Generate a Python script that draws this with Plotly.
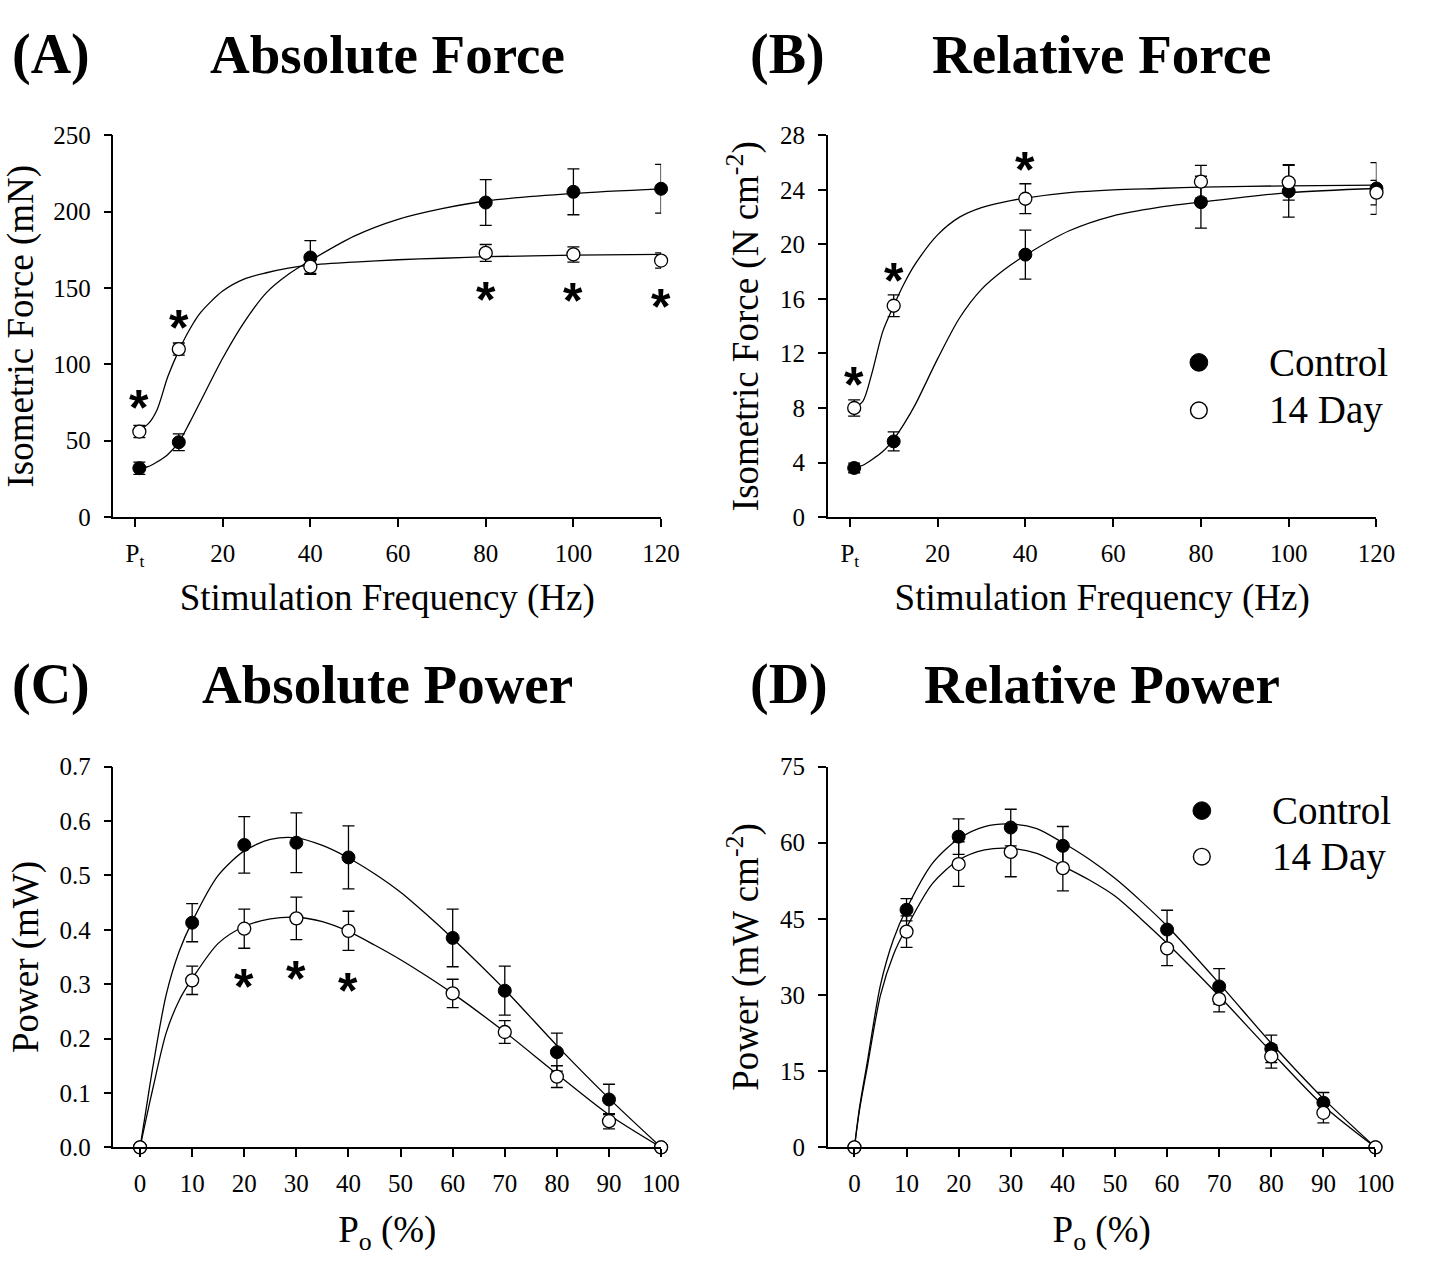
import plotly.graph_objects as go

W, H = 1431, 1268
SERIF = "Liberation Serif"

# ---------------- Panel A : absolute force ----------------
freq = [1, 10, 40, 80, 100, 120]
a_ctrl = [32, 49, 170, 206, 213, 215]
a_ctrl_err = [4, 5.5, 11, 15, 15, 16]
a_d14 = [56, 110, 164, 173, 172, 168]
a_d14_err = [4, 4, 4.5, 5.5, 5, 5]
a_fit_x = [1, 3, 5, 7.5, 10, 12.5, 15, 20, 25, 30, 35, 40, 50, 60, 70, 80, 100, 120]
a_fit_ctrl = [32, 33, 36, 41, 49, 62, 76, 104, 128, 147, 159, 168, 184, 195, 202, 207, 212, 215]
a_fit_d14 = [57, 61, 70, 92, 109, 123, 134, 148, 156, 160, 163, 165, 167, 168.5, 169.5, 170.5, 171.5, 172]
a_star_x = [1, 10, 80, 100, 120]
a_star_y = [78.5, 131, 149.5, 148.7, 144.8]

# ---------------- Panel B : relative force ----------------
b_ctrl = [3.6, 5.55, 19.25, 23.1, 23.9, 24.1]
b_ctrl_err = [0.35, 0.7, 1.8, 1.9, 1.9, 1.9]
b_d14 = [8.0, 15.5, 23.35, 24.6, 24.55, 23.8]
b_d14_err = [0.6, 0.8, 1.1, 1.2, 1.3, 0.9]
b_fit_x = [1, 3, 5, 7.5, 10, 12.5, 15, 20, 25, 30, 35, 40, 50, 60, 70, 80, 100, 120]
b_fit_ctrl = [3.6, 3.8, 4.2, 4.8, 5.7, 6.9, 8.3, 11.6, 14.6, 16.7, 18.1, 19.2, 21.0, 22.1, 22.7, 23.1, 23.8, 24.1]
b_fit_d14 = [8.0, 8.5, 10.5, 13.6, 15.5, 17.2, 18.6, 20.7, 22.0, 22.7, 23.1, 23.4, 23.8, 24.0, 24.1, 24.2, 24.3, 24.35]
b_star_x = [1, 10, 40]
b_star_y = [10.5, 18.1, 26.3]

# ---------------- Panel C : absolute power ----------------
load = [0, 10, 20, 30, 40, 60, 70, 80, 90, 100]
c_ctrl = [0, 0.413, 0.556, 0.560, 0.533, 0.385, 0.288, 0.175, 0.088, 0]
c_ctrl_err = [0, 0.035, 0.052, 0.055, 0.058, 0.053, 0.045, 0.035, 0.028, 0]
c_d14 = [0, 0.307, 0.402, 0.421, 0.398, 0.283, 0.212, 0.130, 0.048, 0]
c_d14_err = [0, 0.026, 0.036, 0.039, 0.036, 0.026, 0.021, 0.020, 0.014, 0]
pw_fit_x = [0, 1, 2.5, 5, 7.5, 10, 15, 20, 25, 30, 35, 40, 45, 50, 55, 60, 70, 80, 90, 100]
c_fit_ctrl = [0, 0.06, 0.15, 0.28, 0.36, 0.415, 0.50, 0.545, 0.566, 0.569, 0.555, 0.532, 0.503, 0.469, 0.428,
              0.384, 0.290, 0.187, 0.090, 0]
c_fit_d14 = [0, 0.045, 0.11, 0.21, 0.27, 0.31, 0.375, 0.406, 0.420, 0.423, 0.415, 0.397, 0.372, 0.345, 0.315,
             0.283, 0.212, 0.135, 0.060, 0]
c_star_x = [20, 30, 40]
c_star_y = [0.315, 0.33, 0.3085]

# ---------------- Panel D : relative power ----------------
d_ctrl = [0, 46.8, 61.2, 63.0, 59.4, 42.9, 31.7, 19.4, 8.8, 0]
d_ctrl_err = [0, 2.2, 3.5, 3.6, 3.8, 3.8, 3.5, 2.7, 2.0, 0]
d_d14 = [0, 42.5, 55.8, 58.2, 55.0, 39.2, 29.2, 17.9, 6.8, 0]
d_d14_err = [0, 3.1, 4.4, 4.9, 4.5, 3.4, 2.5, 2.3, 2.0, 0]
d_fit_ctrl = [0, 8, 17, 32, 41, 47, 56, 60.8, 63.2, 63.7, 62.8, 60, 56.8, 53, 48.5, 43.6, 32.3, 20.5, 9.6, 0]
d_fit_d14 = [0, 7.5, 16, 30, 38, 43.3, 52, 56.6, 58.6, 58.9, 57.9, 55.4, 52.7, 49.5, 45.0, 40.2, 29.8, 18.8, 8.2, 0]

freq_ticks = [0, 20, 40, 60, 80, 100, 120]
freq_ticktext = ["P<sub>t</sub>", "20", "40", "60", "80", "100", "120"]
load_ticks = [0, 10, 20, 30, 40, 50, 60, 70, 80, 90, 100]

groups = ["Control", "14 Day"]

fig = go.Figure()


def add_panel(xa, ya, fit_x, fit_c, fit_d, x, yc, ec, yd, ed):
    for fy in (fit_c, fit_d):
        fig.add_trace(go.Scatter(x=fit_x, y=fy, mode="lines", xaxis=xa, yaxis=ya,
                                 line=dict(color="black", width=1.3, shape="spline", smoothing=0.8),
                                 showlegend=False, hoverinfo="skip", cliponaxis=False))
    fig.add_trace(go.Scatter(x=x, y=yc, mode="markers", xaxis=xa, yaxis=ya, name=groups[0],
                             marker=dict(color="black", size=13, line=dict(color="black", width=1)),
                             error_y=dict(type="data", array=ec, color="black", thickness=1.3, width=6),
                             showlegend=False, cliponaxis=False))
    fig.add_trace(go.Scatter(x=x, y=yd, mode="markers", xaxis=xa, yaxis=ya, name=groups[1],
                             marker=dict(color="white", size=13, line=dict(color="black", width=1.3)),
                             error_y=dict(type="data", array=ed, color="black", thickness=1.3, width=6),
                             showlegend=False, cliponaxis=False))


add_panel("x", "y", a_fit_x, a_fit_ctrl, a_fit_d14, freq, a_ctrl, a_ctrl_err, a_d14, a_d14_err)
add_panel("x2", "y2", b_fit_x, b_fit_ctrl, b_fit_d14, freq, b_ctrl, b_ctrl_err, b_d14, b_d14_err)
add_panel("x3", "y3", pw_fit_x, c_fit_ctrl, c_fit_d14, load, c_ctrl, c_ctrl_err, c_d14, c_d14_err)
add_panel("x4", "y4", pw_fit_x, d_fit_ctrl, d_fit_d14, load, d_ctrl, d_ctrl_err, d_d14, d_d14_err)

annotations = []
# significance asterisks
for xr, yr, sx, sy in [("x", "y", a_star_x, a_star_y), ("x2", "y2", b_star_x, b_star_y),
                       ("x3", "y3", c_star_x, c_star_y)]:
    for xv, yv in zip(sx, sy):
        annotations.append(dict(x=xv, y=yv, xref=xr, yref=yr, text="<b>*</b>", showarrow=False,
                                font=dict(family="Liberation Sans", size=50, color="black"),
                                xanchor="center", yanchor="middle", yshift=-11))


def px_x(p):
    return p / W


def px_y(p):
    return 1 - p / H


# panel titles and letters
for letter, title, lx, tx, ty in [("(A)", "Absolute Force", 52, 393, 42),
                                  ("(B)", "Relative Force", 798, 1117, 42),
                                  ("(C)", "Absolute Power", 52, 393, 686),
                                  ("(D)", "Relative Power", 800, 1117, 686)]:
    annotations.append(dict(x=px_x(lx), y=px_y(ty), xref="paper", yref="paper", text="<b>" + letter + "</b>",
                            showarrow=False, xanchor="center", yanchor="middle",
                            font=dict(family=SERIF, size=56, color="black")))
    annotations.append(dict(x=px_x(tx), y=px_y(ty), xref="paper", yref="paper", text="<b>" + title + "</b>",
                            showarrow=False, xanchor="center", yanchor="middle",
                            font=dict(family=SERIF, size=55, color="black")))

# legends (panels B and D)
shapes = []
for mx, tx, y1, y2 in [(1215, 1284, 357, 406), (1218, 1287, 815, 862)]:
    r = 9
    shapes.append(dict(type="circle", xref="paper", yref="paper",
                       x0=px_x(mx - r), x1=px_x(mx + r), y0=px_y(y1 + r), y1=px_y(y1 - r),
                       fillcolor="black", line=dict(color="black", width=1)))
    r = 8.5
    shapes.append(dict(type="circle", xref="paper", yref="paper",
                       x0=px_x(mx - r), x1=px_x(mx + r), y0=px_y(y2 + r), y1=px_y(y2 - r),
                       fillcolor="white", line=dict(color="black", width=1.4)))
    for name, yy in zip(groups, (y1, y2)):
        annotations.append(dict(x=px_x(tx), y=px_y(yy), xref="paper", yref="paper", text=name,
                                showarrow=False, xanchor="left", yanchor="middle",
                                font=dict(family=SERIF, size=39, color="black")))

axis_common = dict(showline=True, linecolor="black", linewidth=1.5, ticks="outside", ticklen=8,
                   tickwidth=1.5, tickcolor="black", showgrid=False, zeroline=False,
                   tickfont=dict(family=SERIF, size=25, color="black"))
x_common = dict(axis_common, ticklabelstandoff=5)
y_common = dict(axis_common, ticklabelstandoff=8)
title_font = dict(family=SERIF, size=37, color="black")

top = (px_y(515), px_y(125))
bot = (px_y(1159), px_y(770))

fig.update_layout(
    width=W, height=H, margin=dict(l=0, r=0, t=0, b=0),
    paper_bgcolor="white", plot_bgcolor="white", showlegend=False,
    xaxis=dict(domain=[px_x(115), px_x(670)], range=[-4.9, 120], anchor="y", tickvals=freq_ticks,
               ticktext=freq_ticktext, title=dict(text="Stimulation Frequency (Hz)", font=title_font, standoff=14),
               **x_common),
    yaxis=dict(domain=list(top), range=[0, 250], anchor="x", dtick=50,
               title=dict(text="Isometric Force (mN)", font=title_font, standoff=10), **y_common),
    xaxis2=dict(domain=[px_x(839), px_x(1395)], range=[-5, 120], anchor="y2", tickvals=freq_ticks,
                ticktext=freq_ticktext, title=dict(text="Stimulation Frequency (Hz)", font=title_font, standoff=14),
                **x_common),
    yaxis2=dict(domain=list(top), range=[0, 28], anchor="x2", dtick=4,
                title=dict(text="Isometric Force (N cm<sup>-2</sup>)", font=title_font, standoff=10), **y_common),
    xaxis3=dict(domain=[px_x(115), px_x(670)], range=[-5.1, 100], anchor="y3", tickvals=load_ticks,
                title=dict(text="P<sub>o</sub> (%)", font=title_font, standoff=20), **x_common),
    yaxis3=dict(domain=list(bot), range=[0, 0.7], anchor="x3", dtick=0.1, tickformat=".1f",
                title=dict(text="Power (mW)", font=title_font, standoff=10), **y_common),
    xaxis4=dict(domain=[px_x(839), px_x(1394)], range=[-5.1, 100], anchor="y4", tickvals=load_ticks,
                title=dict(text="P<sub>o</sub> (%)", font=title_font, standoff=20), **x_common),
    yaxis4=dict(domain=list(bot), range=[0, 75], anchor="x4", dtick=15,
                title=dict(text="Power (mW cm<sup>-2</sup>)", font=title_font, standoff=10), **y_common),
    annotations=annotations, shapes=shapes,
)

fig.write_html("out.html", config={"displayModeBar": False},
               post_script="document.documentElement.style.margin='0';document.body.style.margin='0';"
                           "document.body.style.overflow='hidden';")
